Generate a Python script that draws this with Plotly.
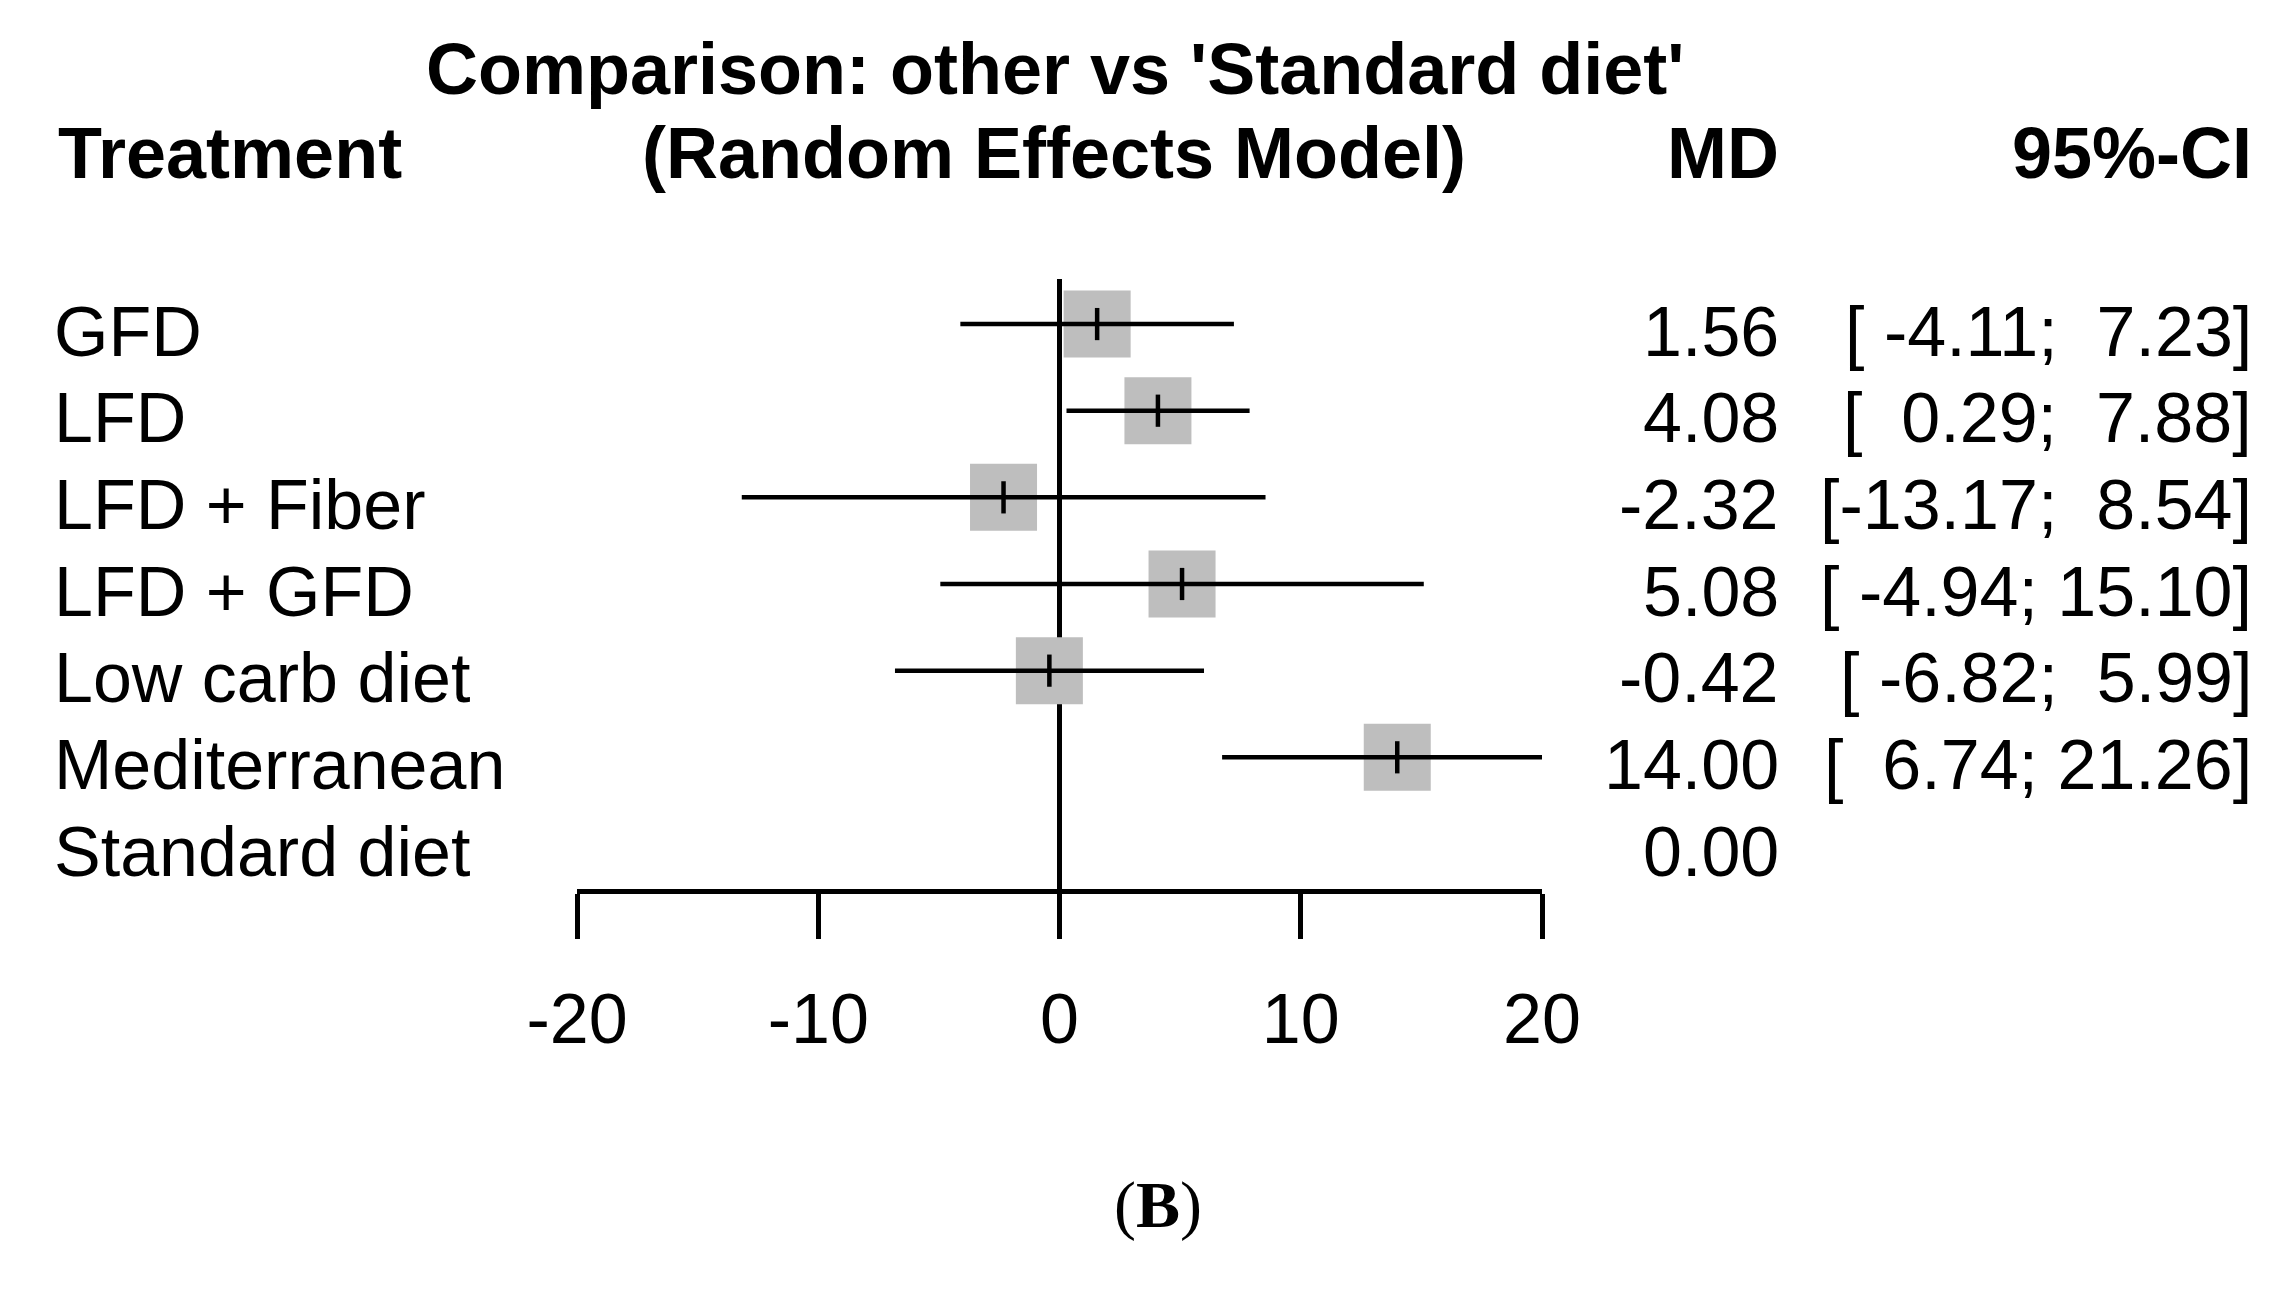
import plotly.graph_objects as go

# ---------------- data ----------------
treatments = ["GFD", "LFD", "LFD + Fiber", "LFD + GFD", "Low carb diet",
              "Mediterranean", "Standard diet"]
md = [1.56, 4.08, -2.32, 5.08, -0.42, 14.00, 0.00]
ci_lower = [-4.11, 0.29, -13.17, -4.94, -6.82, 6.74, None]
ci_upper = [7.23, 7.88, 8.54, 15.10, 5.99, 21.26, None]
x_ticks = [-20, -10, 0, 10, 20]

title_line1 = "Comparison: other vs 'Standard diet'"
title_line2 = "(Random Effects Model)"

# ---------------- geometry helpers ----------------
W, H = 2270, 1294
OFF = 8  # page body margin
FONT = "Liberation Sans, Arial, sans-serif"
FS = 70
FSB = 72
NB = "\u00a0"
LW = 4.5

def px(x):
    return (x - OFF) / W

def py(y):
    return 1 - (y - OFF) / H

rows = list(range(1, len(treatments) + 1))

def fmt_ci(lo, hi):
    if lo is None:
        return ""
    los = f"{lo:.2f}".rjust(6)
    his = f"{hi:.2f}".rjust(5)
    return ("[" + los + "; " + his + "]").replace(" ", NB)

fig = go.Figure()

ci_rows = [r for r, lo in zip(rows, ci_lower) if lo is not None]
ci_md = [m for m, lo in zip(md, ci_lower) if lo is not None]
ci_lo = [lo for lo in ci_lower if lo is not None]
ci_hi = [hi for hi in ci_upper if hi is not None]

# grey squares
fig.add_trace(go.Scatter(x=ci_md, y=ci_rows, mode="markers",
                         marker=dict(symbol="square", size=67, color="#BEBEBE",
                                     line=dict(width=0)),
                         hoverinfo="skip", showlegend=False))

# CI lines
for r, lo, hi in zip(ci_rows, ci_lo, ci_hi):
    fig.add_trace(go.Scatter(x=[lo, hi], y=[r, r], mode="lines",
                             line=dict(color="black", width=LW),
                             hoverinfo="skip", showlegend=False))

# estimate tick
fig.add_trace(go.Scatter(x=ci_md, y=ci_rows, mode="markers",
                         marker=dict(symbol="line-ns", size=23,
                                     line=dict(width=LW, color="black")),
                         hoverinfo="skip", showlegend=False))

annotations = []
TEXT_SHIFT = 0.09
for r, name, m, lo, hi in zip(rows, treatments, md, ci_lower, ci_upper):
    annotations.append(dict(x=px(52), xref="paper", y=r + TEXT_SHIFT, yref="y",
                            text=name, showarrow=False, xanchor="left",
                            yanchor="middle", font=dict(size=FS)))
    annotations.append(dict(x=px(1781), xref="paper", y=r + TEXT_SHIFT, yref="y",
                            text=f"{m:.2f}", showarrow=False, xanchor="right",
                            yanchor="middle", font=dict(size=FS)))
    if lo is not None:
        annotations.append(dict(x=px(2254), xref="paper", y=r + TEXT_SHIFT, yref="y",
                                text=fmt_ci(lo, hi), showarrow=False, xanchor="right",
                                yanchor="middle", font=dict(size=FS)))

# headers
annotations += [
    dict(x=px(1055), y=py(69), xref="paper", yref="paper", text="<b>" + title_line1 + "</b>",
         showarrow=False, xanchor="center", yanchor="middle", font=dict(size=FSB)),
    dict(x=px(56), y=py(153), xref="paper", yref="paper", text="<b>Treatment</b>",
         showarrow=False, xanchor="left", yanchor="middle", font=dict(size=FSB)),
    dict(x=px(1054), y=py(153), xref="paper", yref="paper", text="<b>" + title_line2 + "</b>",
         showarrow=False, xanchor="center", yanchor="middle", font=dict(size=FSB)),
    dict(x=px(1781), y=py(153), xref="paper", yref="paper", text="<b>MD</b>",
         showarrow=False, xanchor="right", yanchor="middle", font=dict(size=FSB)),
    dict(x=px(2254), y=py(153), xref="paper", yref="paper", text="<b>95%-CI</b>",
         showarrow=False, xanchor="right", yanchor="middle", font=dict(size=FSB)),
    dict(x=px(1158), y=py(1205), xref="paper", yref="paper", text="(<b>B</b>)",
         showarrow=False, xanchor="center", yanchor="middle",
         font=dict(size=66, family="Liberation Serif, Times New Roman, serif")),
]

fig.update_layout(
    width=W, height=H, autosize=False,
    margin=dict(l=0, r=0, t=0, b=0, pad=0, autoexpand=False),
    paper_bgcolor="white", plot_bgcolor="white",
    font=dict(family=FONT, color="black", size=FS),
    showlegend=False,
    annotations=annotations,
    xaxis=dict(domain=[px(577), px(1542)], range=[-20, 20],
               tickvals=x_ticks, ticktext=[str(t) for t in x_ticks],
               ticks="outside", ticklen=45, tickwidth=LW, tickcolor="black",
               showline=True, linewidth=5, linecolor="black",
               showgrid=False, zeroline=True, zerolinecolor="black", zerolinewidth=LW,
               tickfont=dict(size=FS), ticklabelstandoff=20, fixedrange=True,
               automargin=False),
    yaxis=dict(domain=[py(889), py(279)], range=[7.52, 0.48],
               visible=False, showgrid=False, zeroline=False, fixedrange=True,
               automargin=False),
)

fig.write_html("out.html")
